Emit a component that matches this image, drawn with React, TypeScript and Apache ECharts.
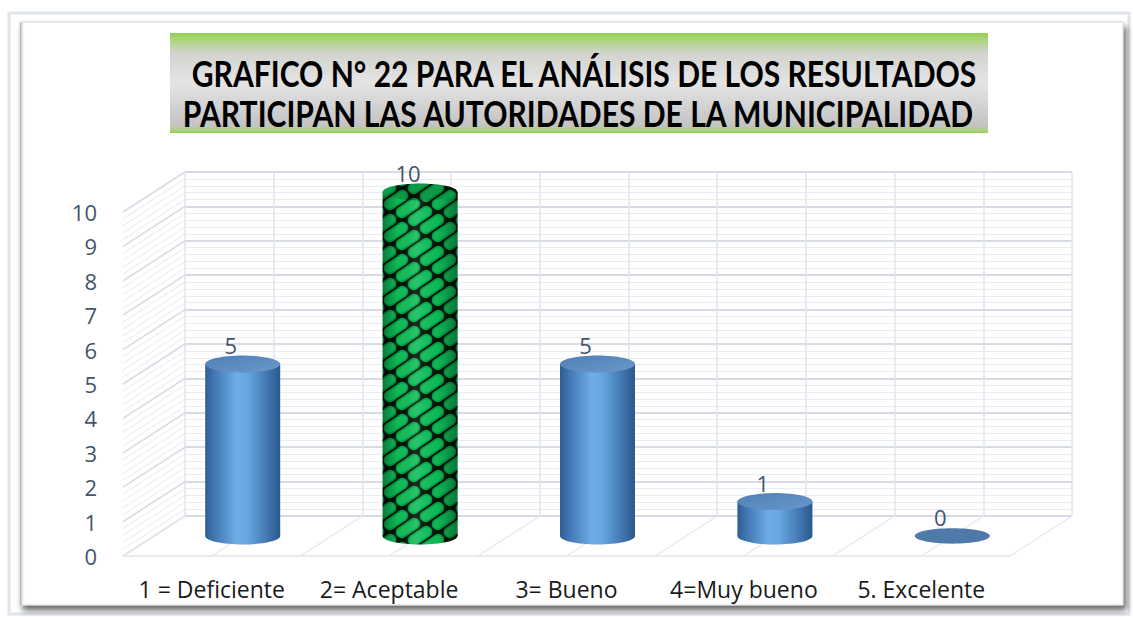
import React, { useEffect, useRef } from 'react';
import * as echarts from 'echarts';

// ---------- data ----------
const CATEGORIES = ['1 = Deficiente', '2= Aceptable', '3= Bueno', '4=Muy bueno', '5. Excelente'];
const VALUES = [5, 10, 5, 1, 0];
const Y_MIN = 0;
const Y_MAX = 10;
const Y_STEP = 1;
const TITLE_LINES = [
  'GRAFICO N° 22 PARA EL ANÁLISIS DE LOS RESULTADOS',
  'PARTICIPAN LAS AUTORIDADES DE LA MUNICIPALIDAD',
];
const HIGHLIGHT_INDEX = 1;

// ---------- layout / style ----------
const FONT = '"Open Sans", Lato, sans-serif';
const TITLE_FONT = 'Lato, "Liberation Sans", sans-serif';
const DX = 62; // depth offset (front -> back wall)
const DY = -40;
const BAR_RX = 37.5;
const BAR_RY = 8.5;

function makePatternCanvas() {
  const W = 48, H = 32;
  const c = document.createElement('canvas');
  c.width = W;
  c.height = H;
  const g = c.getContext('2d')!;
  g.fillStyle = '#031407';
  g.fillRect(0, 0, W, H);
  const L = Math.hypot(W, H);
  const ux = W / L, uy = -H / L;
  const step = L / 2;
  g.lineCap = 'round';
  const seg = (x1: number, y1: number, x2: number, y2: number) => {
    g.beginPath();
    g.moveTo(x1, y1);
    g.lineTo(x2, y2);
    g.stroke();
  };
  for (let pass = 0; pass < 2; pass++) {
    for (let k = -6; k <= 8; k++) {
      const oy = (k * H) / 2;
      const phase = (k & 1) ? step / 2 : 0;
      for (let t = -4; t <= 6; t++) {
        const s = t * step + phase;
        const cx = ux * s, cy = oy + uy * s;
        const half = 7.8;
        if (pass === 0) {
          g.strokeStyle = '#00a446';
          g.lineWidth = 11.6;
        } else {
          g.strokeStyle = '#10c05b';
          g.lineWidth = 8.5;
        }
        seg(cx - ux * half, cy - uy * half, cx + ux * half, cy + uy * half);
      }
    }
  }
  return c;
}

function measure(text: string, font: string) {
  const ctx = document.createElement('canvas').getContext('2d')!;
  ctx.font = font;
  return ctx.measureText(text).width;
}

export default function App() {
  const ref = useRef<HTMLDivElement>(null);

  useEffect(() => {
    const chart = echarts.init(ref.current!, null, { renderer: 'svg' });
    const patternCanvas = makePatternCanvas();
    const pattern: any = {
      image: patternCanvas,
      repeat: 'repeat',
      imageWidth: patternCanvas.width,
      imageHeight: patternCanvas.height,
    };

    const titleFontSize = 36;
    const titleFont = `bold ${titleFontSize}px ${TITLE_FONT}`;
    const titleTargets = [
      { cx: 584, cy: 73, w: 788 },
      { cx: 578, cy: 113, w: 793 },
    ];

    const blueBody = () =>
      new echarts.graphic.LinearGradient(0, 0, 1, 0, [
        { offset: 0, color: '#2f5d92' },
        { offset: 0.12, color: '#4176b2' },
        { offset: 0.42, color: '#6dade8' },
        { offset: 0.56, color: '#67a6e2' },
        { offset: 0.86, color: '#3d71ab' },
        { offset: 1, color: '#2c5889' },
      ]);
    const blueTop = () =>
      new echarts.graphic.LinearGradient(0, 0, 1, 1, [
        { offset: 0, color: '#517fb4' },
        { offset: 1, color: '#6a97cc' },
      ]);
    const shade = () =>
      new echarts.graphic.LinearGradient(0, 0, 1, 0, [
        { offset: 0, color: 'rgba(0,0,0,0.35)' },
        { offset: 0.2, color: 'rgba(0,0,0,0.04)' },
        { offset: 0.45, color: 'rgba(255,255,255,0.1)' },
        { offset: 0.72, color: 'rgba(0,0,0,0.04)' },
        { offset: 1, color: 'rgba(0,0,0,0.38)' },
      ]);

    const option: any = {
      animation: false,
      backgroundColor: '#ffffff',
      graphic: {
        elements: [
          {
            type: 'rect',
            z: -20,
            shape: { x: 9, y: 13, width: 1120, height: 601 },
            style: { fill: '#ffffff', stroke: '#e0e5eb', lineWidth: 3 },
          },
          {
            type: 'rect',
            z: -19,
            shape: { x: 20, y: 22, width: 1103, height: 583 },
            style: {
              fill: '#ffffff',
              stroke: '#d4d4d4',
              lineWidth: 1,
              shadowBlur: 6,
              shadowOffsetX: 3,
              shadowOffsetY: 5,
              shadowColor: 'rgba(0,0,0,0.6)',
            },
          },
          {
            type: 'rect',
            z: -18,
            shape: { x: 20, y: 23, width: 5, height: 582 },
            style: {
              fill: new echarts.graphic.LinearGradient(0, 0, 1, 0, [
                { offset: 0, color: '#a9a9a9' },
                { offset: 1, color: 'rgba(255,255,255,0)' },
              ]),
            },
          },
          {
            type: 'rect',
            z: 50,
            shape: { x: 170, y: 33, width: 818, height: 100 },
            style: {
              fill: new echarts.graphic.LinearGradient(0, 0, 0, 1, [
                { offset: 0, color: '#92d050' },
                { offset: 0.05, color: '#a6d46f' },
                { offset: 0.2, color: '#d2d4cf' },
                { offset: 0.5, color: '#e4e4e4' },
                { offset: 0.92, color: '#c4c4c4' },
                { offset: 0.965, color: '#b3cf92' },
                { offset: 1, color: '#92d050' },
              ]),
            },
          },
          ...TITLE_LINES.map((t, i) => {
            const natural = measure(t, titleFont);
            const sx = titleTargets[i].w / natural;
            return {
              type: 'text',
              z: 51,
              x: titleTargets[i].cx,
              y: titleTargets[i].cy,
              scaleX: sx,
              style: {
                text: t,
                x: 0,
                y: 0,
                align: 'center',
                verticalAlign: 'middle',
                font: titleFont,
                fill: '#000000',
              },
            };
          }),
        ],
      },
      grid: [
        { left: 123, top: 212, width: 887, height: 344 },
        { left: 123 + DX, top: 212 + DY, width: 887, height: 344 },
      ],
      xAxis: [
        {
          type: 'category',
          gridIndex: 0,
          data: CATEGORIES,
          axisLine: { show: false },
          axisTick: { show: false },
          splitLine: { show: false },
          axisLabel: { color: '#1a1a1a', fontSize: 23, fontFamily: FONT, margin: 21, interval: 0 },
        },
        { type: 'value', gridIndex: 0, min: 0, max: CATEGORIES.length, show: false },
        {
          type: 'value',
          gridIndex: 1,
          min: 0,
          max: CATEGORIES.length * 2,
          interval: 1,
          axisLine: { show: false },
          axisTick: { show: false },
          axisLabel: { show: false },
          splitLine: { show: true, lineStyle: { color: '#e1e5eb', width: 1.5 } },
        },
      ],
      yAxis: [
        {
          type: 'value',
          gridIndex: 0,
          min: Y_MIN,
          max: Y_MAX,
          interval: Y_STEP,
          axisLine: { show: false },
          axisTick: { show: false },
          splitLine: { show: false },
          axisLabel: { color: '#44546A', fontSize: 22, fontFamily: FONT, margin: 26 },
        },
        {
          type: 'value',
          gridIndex: 1,
          min: Y_MIN,
          max: Y_MAX,
          interval: Y_STEP,
          axisLine: { show: false },
          axisTick: { show: false },
          axisLabel: { show: false },
          splitLine: { show: true, lineStyle: { color: '#d7dce4', width: 2 } },
          minorTick: { show: false, splitNumber: 5 },
          minorSplitLine: { show: true, lineStyle: { color: '#e9ecf1', width: 1 } },
        },
      ],
      series: [
        {
          type: 'custom',
          name: 'walls',
          xAxisIndex: 1,
          yAxisIndex: 0,
          silent: true,
          z: 1,
          data: [[0, 0]],
          renderItem: (params: any, api: any) => {
            const children: any[] = [];
            const minorPerUnit = 5;
            const nMinor = ((Y_MAX - Y_MIN) / Y_STEP) * minorPerUnit;
            for (let j = 0; j <= nMinor; j++) {
              const v = Y_MIN + (j / minorPerUnit) * Y_STEP;
              const a = api.coord([0, v]);
              const major = j % minorPerUnit === 0;
              children.push({
                type: 'line',
                shape: { x1: a[0], y1: a[1], x2: a[0] + DX, y2: a[1] + DY },
                style: { stroke: major ? '#d7dce4' : '#e6e9ee', lineWidth: major ? 1.6 : 1 },
              });
            }
            for (let j = 0; j <= CATEGORIES.length * 2; j++) {
              const a = api.coord([j / 2, Y_MIN]);
              children.push({
                type: 'line',
                shape: { x1: a[0], y1: a[1], x2: a[0] + DX, y2: a[1] + DY },
                style: { stroke: '#e4e7ec', lineWidth: 1.2 },
              });
            }
            const f0 = api.coord([0, Y_MIN]);
            const f1 = api.coord([CATEGORIES.length, Y_MIN]);
            children.push({
              type: 'line',
              shape: { x1: f0[0], y1: f0[1], x2: f1[0], y2: f1[1] },
              style: { stroke: '#e1e5ea', lineWidth: 1.6 },
            });
            return { type: 'group', children };
          },
        },
        {
          type: 'custom',
          name: 'bars',
          xAxisIndex: 0,
          yAxisIndex: 0,
          z: 3,
          data: VALUES.map((v, i) => [i, v]),
          renderItem: (params: any, api: any) => {
            const i = params.dataIndex;
            const v = api.value(1);
            const base = api.coord([api.value(0), Y_MIN]);
            const top = api.coord([api.value(0), v]);
            const cx = base[0] + DX * 0.5;
            const by = base[1] + DY * 0.5;
            const ty = top[1] + DY * 0.5;
            const children: any[] = [];
            const green = i === HIGHLIGHT_INDEX;
            if (v <= 0) {
              children.push({
                type: 'ellipse',
                shape: { cx, cy: by, rx: BAR_RX, ry: BAR_RY * 0.9 },
                style: { fill: '#4f79a9' },
              });
            } else if (green) {
              children.push({
                type: 'ellipse',
                shape: { cx, cy: by, rx: BAR_RX, ry: BAR_RY },
                style: { fill: pattern },
              });
              children.push({
                type: 'ellipse',
                shape: { cx, cy: by, rx: BAR_RX, ry: BAR_RY },
                style: { fill: shade() },
              });
              children.push({
                type: 'rect',
                shape: { x: cx - BAR_RX, y: ty, width: BAR_RX * 2, height: by - ty },
                style: { fill: pattern },
              });
              children.push({
                type: 'rect',
                shape: { x: cx - BAR_RX, y: ty, width: BAR_RX * 2, height: by - ty },
                style: { fill: shade() },
              });
              children.push({
                type: 'ellipse',
                shape: { cx, cy: ty, rx: BAR_RX, ry: BAR_RY },
                style: { fill: pattern },
              });
              children.push({
                type: 'ellipse',
                shape: { cx, cy: ty, rx: BAR_RX, ry: BAR_RY },
                style: { fill: 'rgba(0,0,0,0.2)' },
              });
            } else {
              children.push({
                type: 'ellipse',
                shape: { cx, cy: by, rx: BAR_RX, ry: BAR_RY },
                style: { fill: blueBody() },
              });
              children.push({
                type: 'rect',
                shape: { x: cx - BAR_RX, y: ty, width: BAR_RX * 2, height: by - ty },
                style: { fill: blueBody() },
              });
              children.push({
                type: 'ellipse',
                shape: { cx, cy: ty, rx: BAR_RX, ry: BAR_RY },
                style: { fill: blueTop() },
              });
            }
            children.push({
              type: 'text',
              x: cx - 12,
              y: ty - 19,
              style: {
                text: String(v),
                align: 'center',
                verticalAlign: 'middle',
                fontSize: 22,
                fontFamily: FONT,
                fill: '#44546A',
              },
            });
            return { type: 'group', children };
          },
        },
      ],
    };

    chart.setOption(option);
    return () => chart.dispose();
  }, []);

  return (
    <div
      ref={ref}
      style={{ position: 'fixed', left: 0, top: 0, width: 1133, height: 617 }}
    />
  );
}
